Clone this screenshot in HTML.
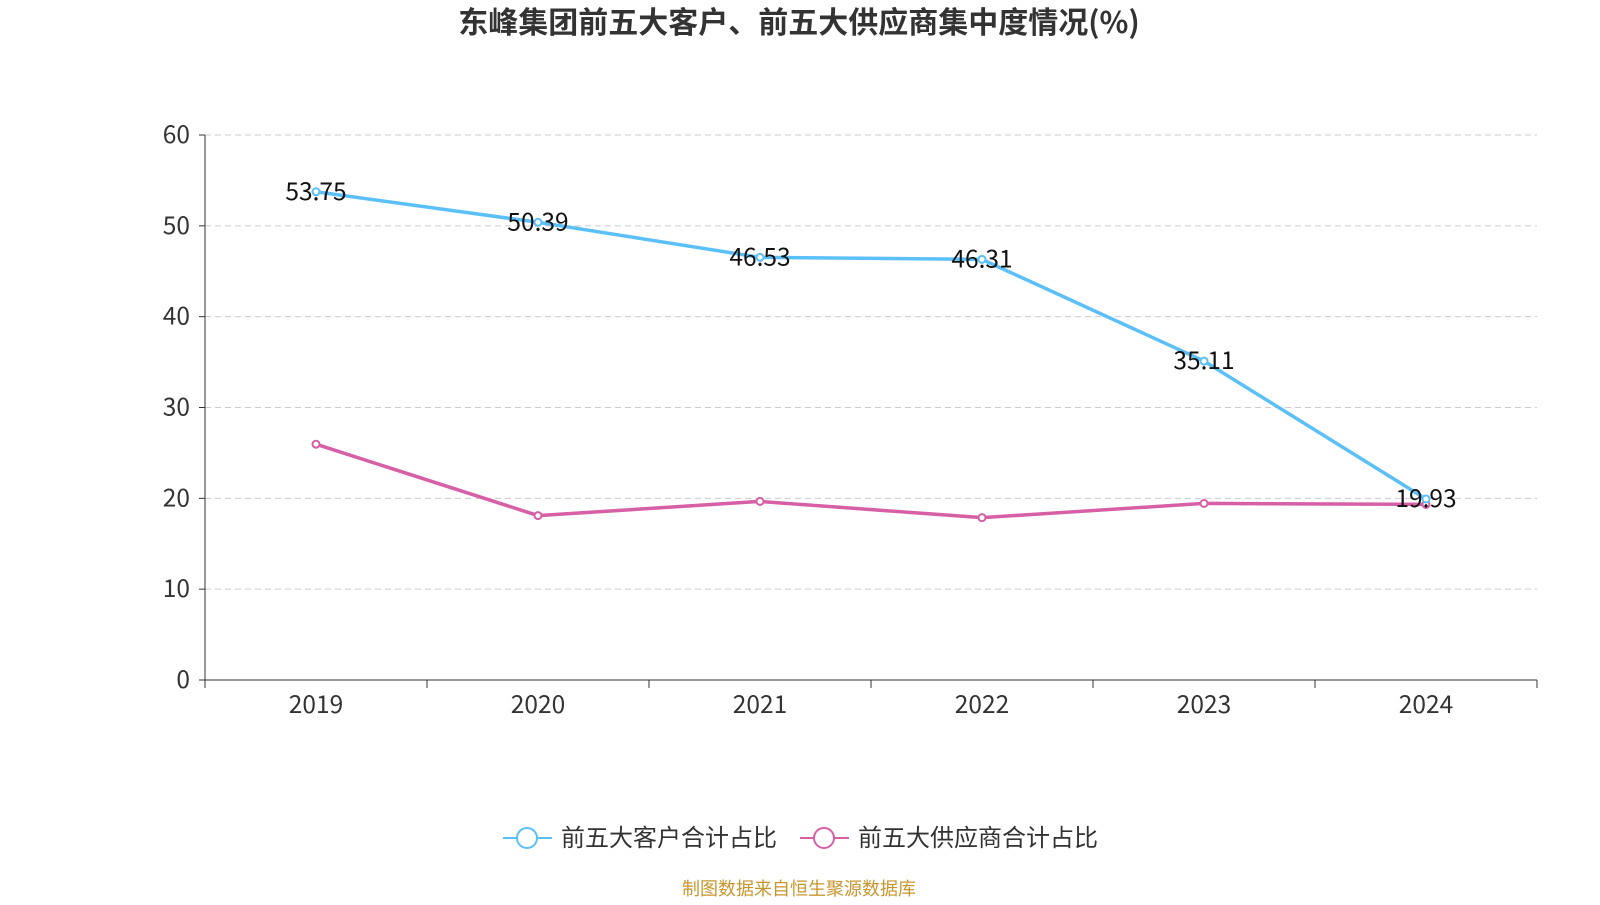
<!DOCTYPE html>
<html><head><meta charset="utf-8"><style>
body{margin:0;background:#fff;width:1600px;height:900px;overflow:hidden;font-family:"Noto Sans CJK SC","Liberation Sans",sans-serif}
svg text{font-family:"Noto Sans CJK SC","Liberation Sans",sans-serif}
</style></head><body>
<svg id="chart" width="1600" height="900" xmlns="http://www.w3.org/2000/svg">
<text x="799" y="33" text-anchor="middle" font-size="30" font-weight="bold" fill="#333">东峰集团前五大客户、前五大供应商集中度情况(%)</text>
<g id="grid"></g><g id="axes"></g><g id="series"></g>
<g>
<g>
<line x1="503" y1="838" x2="552" y2="838" stroke="#5bc0f8" stroke-width="2"/>
<circle cx="527" cy="838" r="10" fill="#fff" stroke="#5bc0f8" stroke-width="2"/>
<text x="561" y="846" font-size="24" fill="#333">前五大客户合计占比</text></g>
<g>
<line x1="800" y1="838" x2="849" y2="838" stroke="#d65fa6" stroke-width="2"/>
<circle cx="824" cy="838" r="10" fill="#fff" stroke="#d65fa6" stroke-width="2"/>
<text x="858" y="846" font-size="24" fill="#333">前五大供应商合计占比</text></g>
</g>
<text x="799" y="895" text-anchor="middle" font-size="18" fill="#c8962e">制图数据来自恒生聚源数据库</text>
</svg>
<script>
const categories=["2019","2020","2021","2022","2023","2024"];
const customers=[53.75,50.39,46.53,46.31,35.11,19.93];
const suppliers=[25.96,18.1,19.66,17.87,19.44,19.33];
const yTicks=[0,10,20,30,40,50,60];
const NS="http://www.w3.org/2000/svg";
const x0=205,x1=1537,y0=680,y1=135,yMax=60;
const bw=(x1-x0)/categories.length;
const xs=i=>x0+bw*(i+0.5);
const ys=v=>y0-(v/yMax)*(y0-y1);
function mk(tag,attrs,parent,text){const e=document.createElementNS(NS,tag);for(const k in attrs)e.setAttribute(k,attrs[k]);if(text!=null)e.textContent=text;parent.appendChild(e);return e;}
const grid=document.getElementById('grid'),axes=document.getElementById('axes'),ser=document.getElementById('series');
yTicks.forEach(t=>{
 if(t>0){const g=mk('line',{x1:x0,x2:x1,y1:ys(t),y2:ys(t),stroke:'#ccc','stroke-dasharray':'6,4'},grid);
 
 }
 mk('line',{x1:x0-6,x2:x0,y1:ys(t),y2:ys(t),stroke:'#333'},axes);
 const l=mk('text',{x:x0-15,y:ys(t)+8,'text-anchor':'end','font-size':24.5,fill:'#333'},axes,t);
 
 
});
mk('line',{x1:x0,x2:x0,y1:y1,y2:y0,stroke:'#333'},axes);
mk('line',{x1:x0,x2:x1,y1:y0,y2:y0,stroke:'#333'},axes);
for(let i=0;i<=categories.length;i++)mk('line',{x1:x0+bw*i,x2:x0+bw*i,y1:y0,y2:y0+8,stroke:'#333'},axes);
categories.forEach((c,i)=>{const l=mk('text',{x:xs(i),y:y0+33,'text-anchor':'middle','font-size':24.5,fill:'#333'},axes,c);
 
 });
function line(vals,color,name,labels){
 const p=mk('polyline',{points:vals.map((v,i)=>xs(i)+','+ys(v)).join(' '),fill:'none',stroke:color,'stroke-width':3.5},ser);
 
 
 vals.forEach((v,i)=>{const c=mk('circle',{cx:xs(i),cy:ys(v),r:3.5,fill:'#fff',stroke:color,'stroke-width':2},ser);
  
  
  if(labels){const t=mk('text',{x:xs(i),y:ys(v)+8,'text-anchor':'middle','font-size':24.5,fill:'#111'},ser,v.toFixed(2));
   
   }
 });
}
line(suppliers,'#d65fa6','suppliers',false);
line(customers,'#5bc0f8','customers',true);
</script>
</body></html>
